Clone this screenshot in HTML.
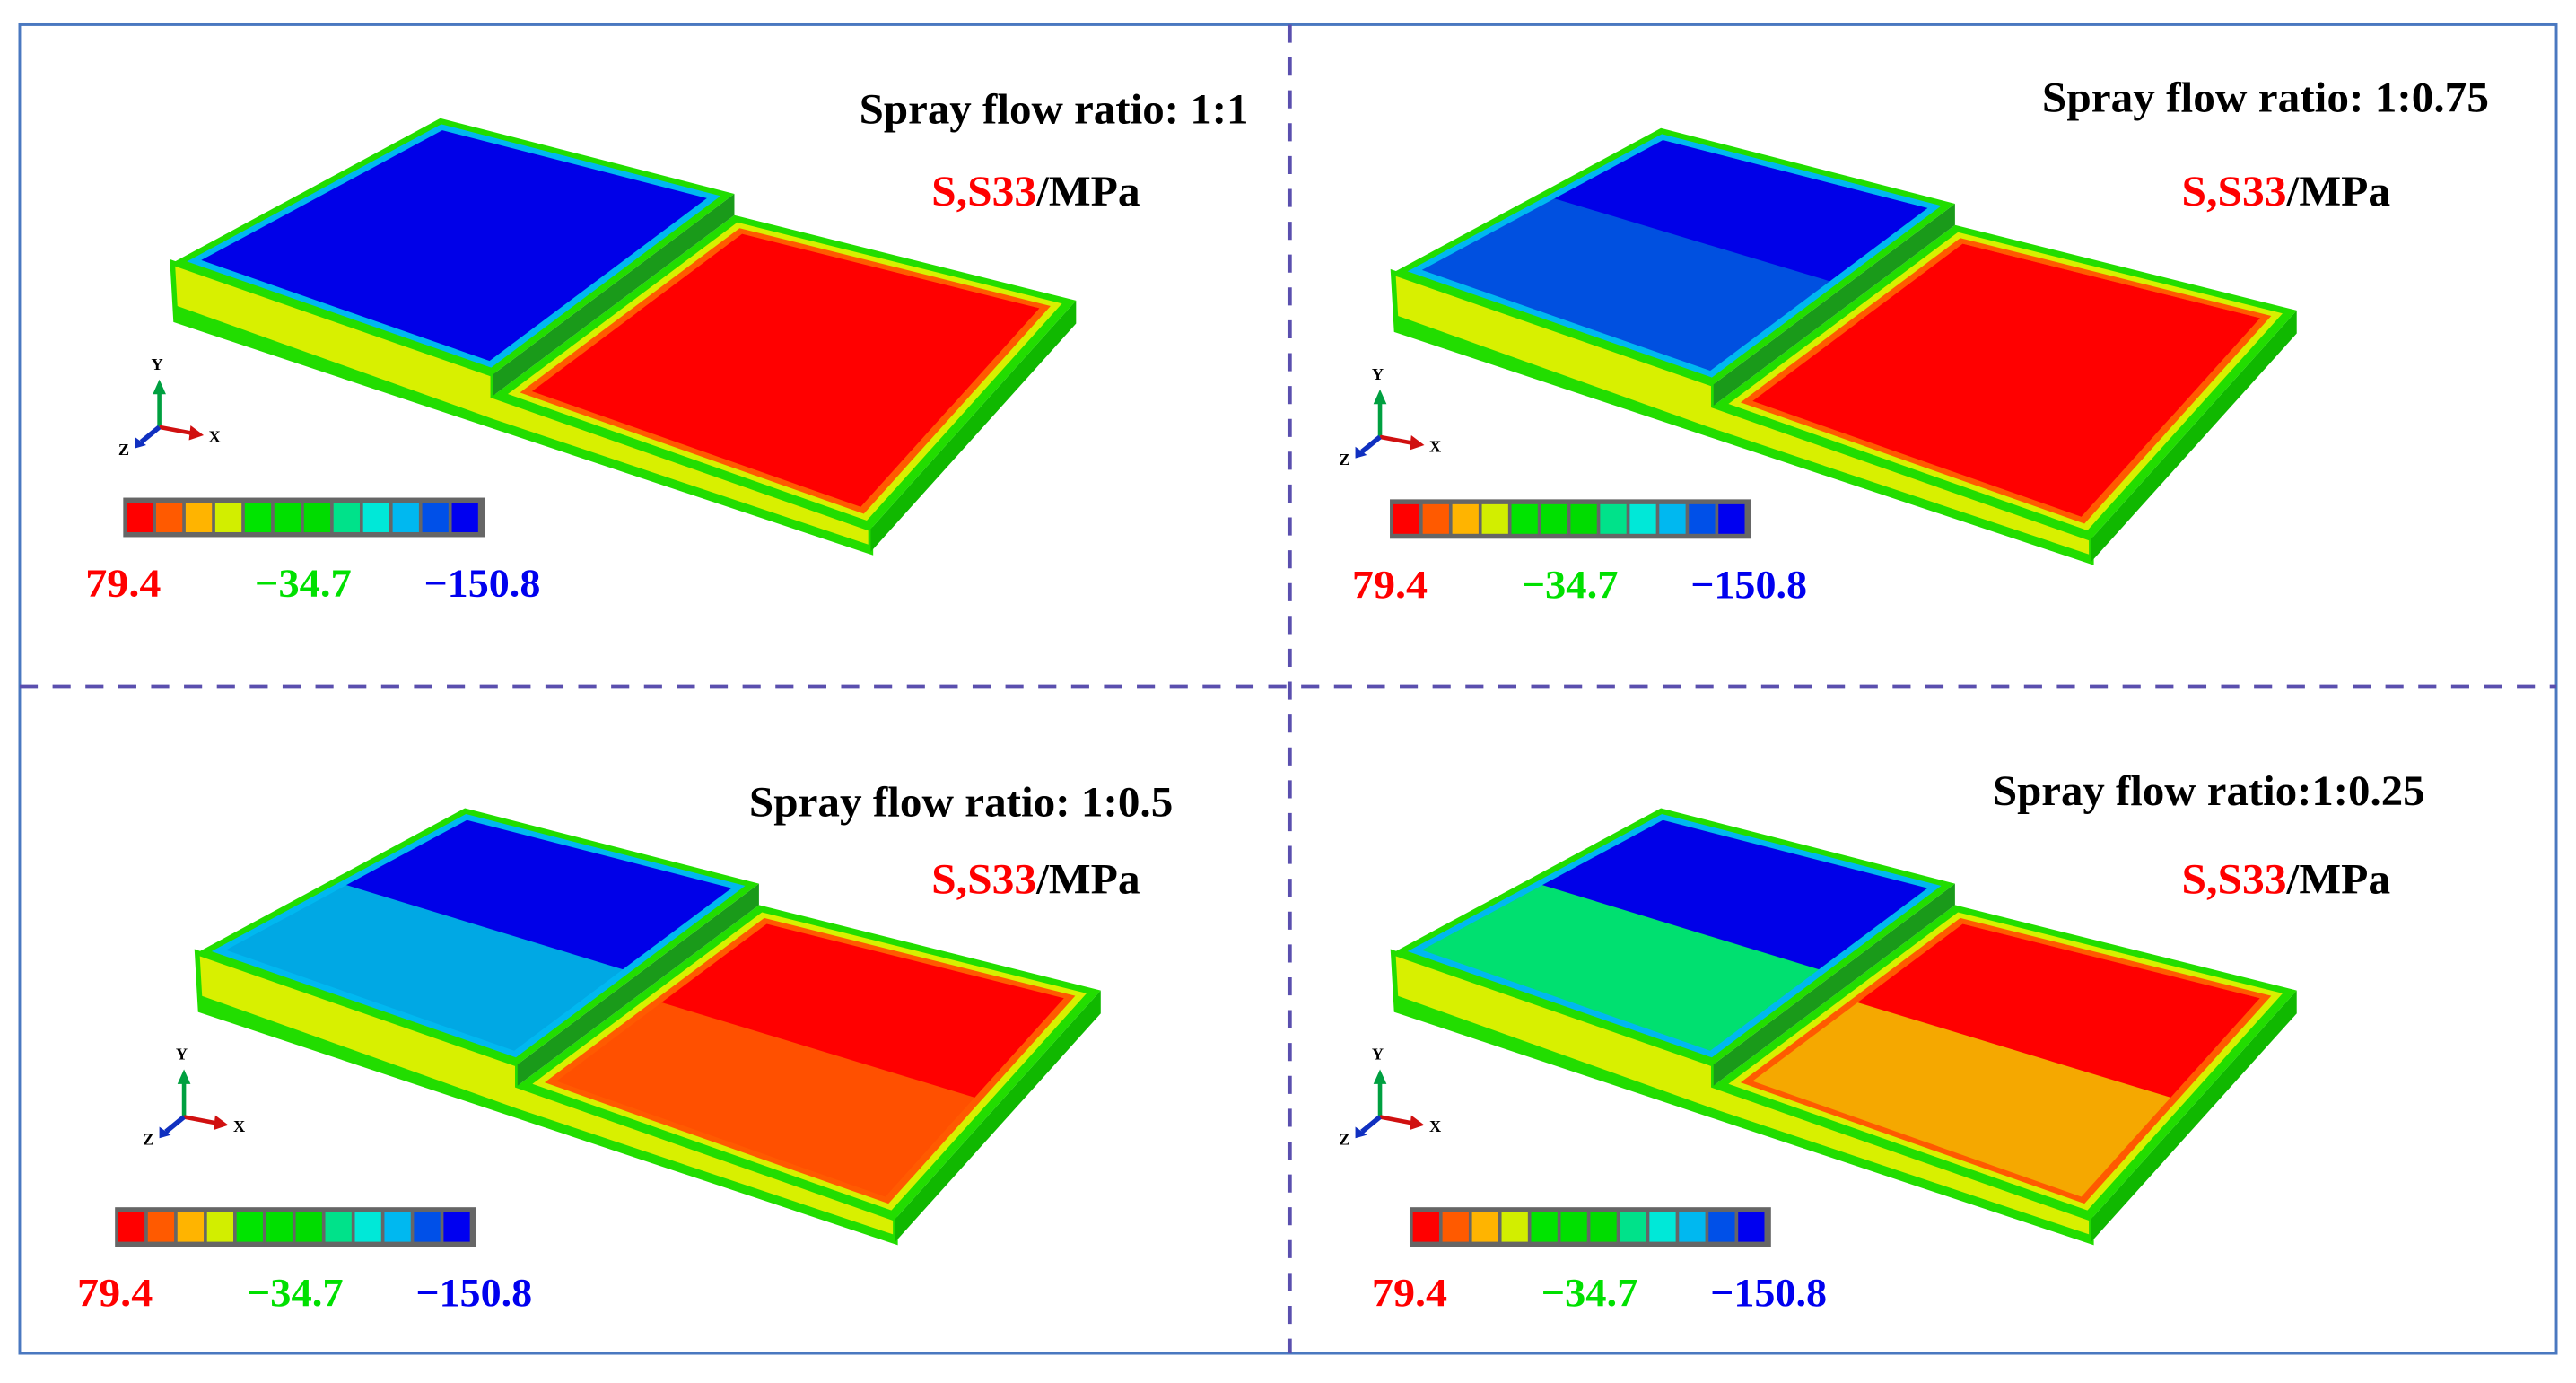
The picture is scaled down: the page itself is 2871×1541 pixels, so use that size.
<!DOCTYPE html>
<html><head><meta charset="utf-8"><style>
html,body{margin:0;padding:0;background:#fff;}
svg{display:block;}
text{font-family:"Liberation Serif",serif;font-weight:bold;}
</style></head><body>
<svg id="fig" xmlns="http://www.w3.org/2000/svg" width="2871" height="1541" viewBox="0 0 1568 842" preserveAspectRatio="none">
<rect x="12" y="15" width="1544" height="809" fill="#fff" stroke="#4a78c0" stroke-width="1.6"/>
<line x1="785" y1="15" x2="785" y2="824" stroke="#5a4fae" stroke-width="2.6" stroke-dasharray="11,9"/>
<line x1="12" y1="418" x2="1556" y2="418" stroke="#5a4fae" stroke-width="2.6" stroke-dasharray="11,9"/>
</svg>
<script>
const titles = ["Spray flow ratio: 1:1","Spray flow ratio: 1:0.75","Spray flow ratio: 1:0.5","Spray flow ratio:1:0.25"];
const legendColors = ["#ff0000","#ff5a00","#ffb400","#d2ee00","#00e400","#00e000","#00dc00","#00e28a","#00e8d8","#00b8f0","#0050e8","#0000f0"];
const legendLabels = ["79.4","\u221234.7","\u2212150.8"];
const blockFront = ["#0000e8","#0050e0","#00a8e4","#00e070"];
const blockBack  = ["#0000e8","#0000e8","#0000e8","#0000e8"];
const plateFront = ["#ff0000","#ff0000","#ff5000","#f5a800"];
const plateBack  = ["#ff0000","#ff0000","#ff0000","#ff0000"];
const panelDx = [0,743,15,743];
const panelDy = [0,6,420,420];
const titleRight = [760,1515,714,1476];
const titleW = [237,272,258,263];
const titleY = [75,68,497,490];
const unitX = [567,1328,567,1328];
const unitY = [125,125,544,544];
const barX = [75,846,70,858];
const barY = [303,304,735,735];
const NS="http://www.w3.org/2000/svg";
const svg=document.getElementById('fig');
function el(t,a,p){const e=document.createElementNS(NS,t);for(const k in a)e.setAttribute(k,a[k]);(p||svg).appendChild(e);return e;}
function pts(p){return p.map(q=>q[0].toFixed(1)+','+q[1].toFixed(1)).join(' ');}
function inset(p,k){const cx=p.reduce((s,q)=>s+q[0],0)/p.length,cy=p.reduce((s,q)=>s+q[1],0)/p.length;return p.map(q=>[q[0]+(cx-q[0])*k,q[1]+(cy-q[1])*k]);}
function mid(a,b,t){return [a[0]+(b[0]-a[0])*t,a[1]+(b[1]-a[1])*t];}
for(let i=0;i<4;i++){
  const g=el('g',{transform:`translate(${panelDx[i]},${panelDy[i]})`});
  
  
  const A=[105,160],B=[268,72],C=[447,118],D=[300,228],D2=[300,241],C2=[447,131],E=[655,183],F=[530,322],F2=[530,336],E2=[655,197],L=[107,195];
  let p=el('polygon',{points:pts([A,D,D2,F,F2,L]),fill:'#d8f000',stroke:'#22dd00','stroke-width':3},g);
  
  
  el('polygon',{points:pts([[107,186],[300,255],[530,332],[530,336],[107,195]]),fill:'#22dd00'},g);
  p=el('polygon',{points:pts([E,F,F2,E2]),fill:'#10b800'},g);
  
  
  const P=[C2,E,F,D2];
  p=el('polygon',{points:pts(P),fill:'#22dd00'},g);
  
  
  el('polygon',{points:pts(inset(P,0.05)),fill:'#d8f000'},g);
  el('polygon',{points:pts(inset(P,0.09)),fill:'#ff5a00'},g);
  const Pi=inset(P,0.13);
  el('polygon',{points:pts(Pi),fill:plateFront[i]},g);
  p=el('polygon',{points:pts([Pi[0],Pi[1],mid(Pi[1],Pi[2],0.5),mid(Pi[0],Pi[3],0.5)]),fill:plateBack[i]},g);
  
  
  p=el('polygon',{points:pts([C,D,D2,C2]),fill:'#1a9a1a'},g);
  
  
  const Q=[A,B,C,D];
  p=el('polygon',{points:pts(Q),fill:'#22dd00'},g);
  
  
  el('polygon',{points:pts(inset(Q,0.05)),fill:'#00b8f0'},g);
  const Qi=inset(Q,0.1);
  el('polygon',{points:pts(Qi),fill:blockFront[i]},g);
  if(i>=1){
    p=el('polygon',{points:pts([Qi[0],Qi[1],Qi[2],Qi[3]].map((q,j)=>j==0?mid(Qi[1],Qi[0],i==1?0.45:0.5):j==3?mid(Qi[2],Qi[3],i==1?0.45:0.5):q)),fill:blockBack[i]},g);
    
    
  }
  const ax=el('g',{},g);
  
  
  el('line',{x1:97,y1:260,x2:97,y2:236,stroke:'#00a040','stroke-width':2.5},ax);
  el('polygon',{points:'93,240 101,240 97,231',fill:'#00a040'},ax);
  el('line',{x1:97,y1:260,x2:118,y2:264,stroke:'#d01010','stroke-width':2.5},ax);
  el('polygon',{points:'116,259 124,265 115,268',fill:'#d01010'},ax);
  el('line',{x1:97,y1:260,x2:86,y2:269,stroke:'#1030c0','stroke-width':3},ax);
  el('polygon',{points:'82,266 89,271 82,273',fill:'#1030c0'},ax);
  const lbl=(t,x,y)=>{const e=el('text',{x,y,'font-size':10,'font-weight':'normal','font-family':'Liberation Sans'},ax);e.textContent=t;};
  lbl('Y',92,225);lbl('X',127,269);lbl('Z',72,277);
}
for(let i=0;i<4;i++){
  let t=el('text',{x:titleRight[i]-titleW[i],y:titleY[i],'font-size':26,fill:'#000',textLength:titleW[i],lengthAdjust:'spacingAndGlyphs'});
  t.textContent=titles[i];
  
  
  t=el('text',{x:unitX[i],y:unitY[i],'font-size':26,fill:'#000',textLength:127,lengthAdjust:'spacingAndGlyphs'});
  t.innerHTML='<tspan fill="#ff0000">S,S33</tspan>/MPa';
  
  
  const lg=el('g',{});
  
  
  const w=220/legendColors.length;
  el('rect',{x:barX[i],y:barY[i],width:220,height:24,fill:'#666'},lg);
  legendColors.forEach((c,j)=>{
    const r=el('rect',{x:barX[i]+2+j*w*216/220,y:barY[i]+3,width:w*216/220-2,height:18,fill:c},lg);
    
    
  });
  const lc=['#ff0000','#00e000','#0000ee'];
  const lx=[-23,80,183];
  const lw=[46,59,71];
  legendLabels.forEach((s,j)=>{
    const e=el('text',{x:barX[i]+lx[j],y:barY[i]+60,'font-size':24,fill:lc[j],textLength:lw[j],lengthAdjust:'spacingAndGlyphs'},lg);
    e.textContent=s;
    
    
  });
}
</script>
</body></html>
